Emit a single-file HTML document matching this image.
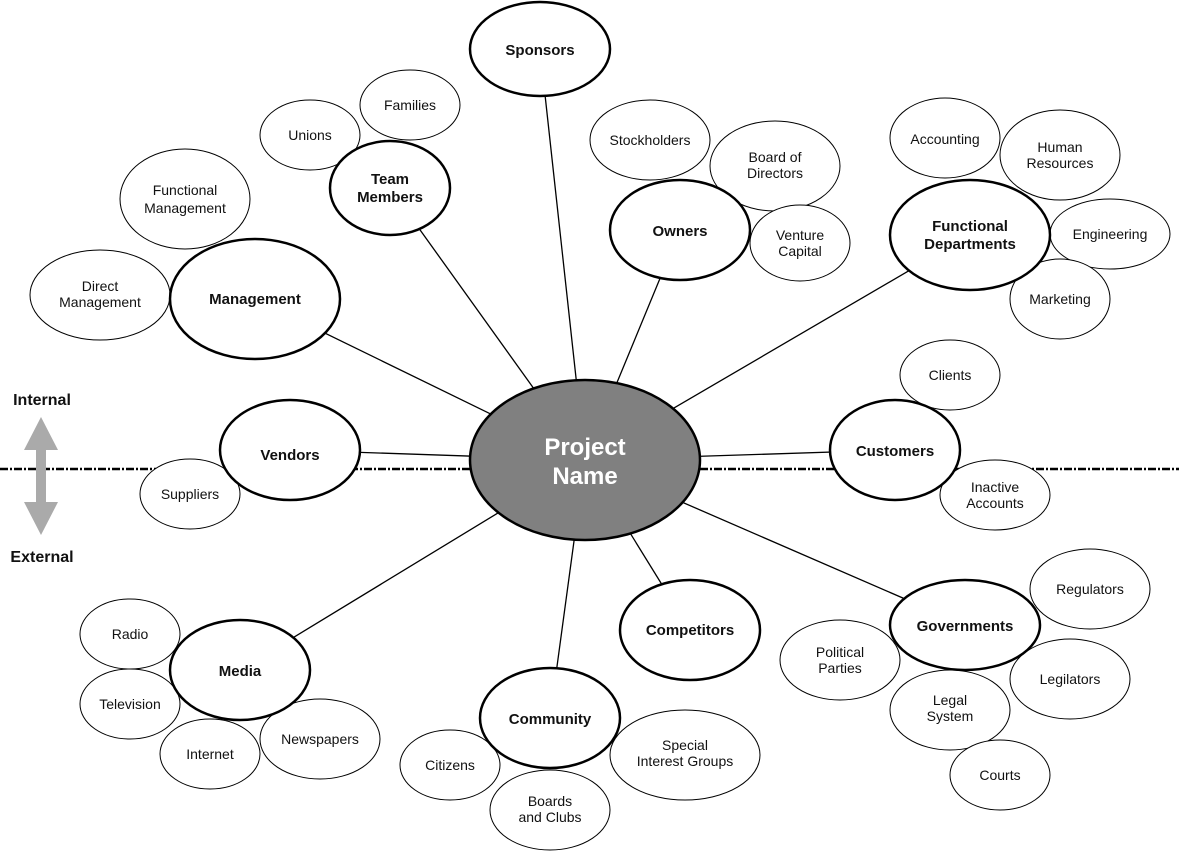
<!DOCTYPE html>
<html><head><meta charset="utf-8"><style>
html,body{margin:0;padding:0;background:#fff;}
svg{display:block;}
text{font-family:"Liberation Sans",sans-serif;text-anchor:middle;fill:#111;}
.s{font-size:14px;}
.b{font-size:15px;font-weight:bold;}
.e{fill:#fff;stroke:#000;stroke-width:1;}
.m{fill:#fff;stroke:#000;stroke-width:2.5;}
line.c{stroke:#000;stroke-width:1.3;}
</style></head><body>
<svg width="1179" height="851" viewBox="0 0 1179 851">
<line x1="0" y1="469" x2="1179" y2="469" stroke="#000" stroke-width="2.5" stroke-dasharray="8,2,2,2"/>
<polygon points="41,417 58,450 46,450 46,502 58,502 41,535 24,502 36,502 36,450 24,450" fill="#aaa"/>
<text x="42" y="405" style="font-size:16px;font-weight:bold">Internal</text>
<text x="42" y="562" style="font-size:16px;font-weight:bold">External</text>
<g>
<line class="c" x1="585" y1="460" x2="540" y2="49"/>
<line class="c" x1="585" y1="460" x2="390" y2="188"/>
<line class="c" x1="585" y1="460" x2="255" y2="299"/>
<line class="c" x1="585" y1="460" x2="680" y2="230"/>
<line class="c" x1="585" y1="460" x2="970" y2="235"/>
<line class="c" x1="585" y1="460" x2="895" y2="450"/>
<line class="c" x1="585" y1="460" x2="290" y2="450"/>
<line class="c" x1="585" y1="460" x2="240" y2="670"/>
<line class="c" x1="585" y1="460" x2="550" y2="718"/>
<line class="c" x1="585" y1="460" x2="690" y2="630"/>
<line class="c" x1="585" y1="460" x2="965" y2="625"/>
</g>
<!-- small nodes -->
<ellipse class="e" cx="310" cy="135" rx="50" ry="35"/><text class="s" x="310" y="140">Unions</text>
<ellipse class="e" cx="410" cy="105" rx="50" ry="35"/><text class="s" x="410" y="110">Families</text>
<ellipse class="e" cx="185" cy="199" rx="65" ry="50"/><text class="s" x="185" y="195">Functional</text><text class="s" x="185" y="213">Management</text>
<ellipse class="e" cx="100" cy="295" rx="70" ry="45"/><text class="s" x="100" y="291">Direct</text><text class="s" x="100" y="307">Management</text>
<ellipse class="e" cx="650" cy="140" rx="60" ry="40"/><text class="s" x="650" y="145">Stockholders</text>
<ellipse class="e" cx="775" cy="166" rx="65" ry="45"/><text class="s" x="775" y="162">Board of</text><text class="s" x="775" y="178">Directors</text>
<ellipse class="e" cx="800" cy="243" rx="50" ry="38"/><text class="s" x="800" y="240">Venture</text><text class="s" x="800" y="256">Capital</text>
<ellipse class="e" cx="945" cy="138" rx="55" ry="40"/><text class="s" x="945" y="144">Accounting</text>
<ellipse class="e" cx="1060" cy="155" rx="60" ry="45"/><text class="s" x="1060" y="152">Human</text><text class="s" x="1060" y="168">Resources</text>
<ellipse class="e" cx="1110" cy="234" rx="60" ry="35"/><text class="s" x="1110" y="239">Engineering</text>
<ellipse class="e" cx="1060" cy="299" rx="50" ry="40"/><text class="s" x="1060" y="304">Marketing</text>
<ellipse class="e" cx="950" cy="375" rx="50" ry="35"/><text class="s" x="950" y="380">Clients</text>
<ellipse class="e" cx="995" cy="495" rx="55" ry="35"/><text class="s" x="995" y="492">Inactive</text><text class="s" x="995" y="508">Accounts</text>
<ellipse class="e" cx="190" cy="494" rx="50" ry="35"/><text class="s" x="190" y="499">Suppliers</text>
<ellipse class="e" cx="130" cy="634" rx="50" ry="35"/><text class="s" x="130" y="639">Radio</text>
<ellipse class="e" cx="130" cy="704" rx="50" ry="35"/><text class="s" x="130" y="709">Television</text>
<ellipse class="e" cx="210" cy="754" rx="50" ry="35"/><text class="s" x="210" y="759">Internet</text>
<ellipse class="e" cx="320" cy="739" rx="60" ry="40"/><text class="s" x="320" y="744">Newspapers</text>
<ellipse class="e" cx="450" cy="765" rx="50" ry="35"/><text class="s" x="450" y="770">Citizens</text>
<ellipse class="e" cx="550" cy="810" rx="60" ry="40"/><text class="s" x="550" y="806">Boards</text><text class="s" x="550" y="822">and Clubs</text>
<ellipse class="e" cx="685" cy="755" rx="75" ry="45"/><text class="s" x="685" y="750">Special</text><text class="s" x="685" y="766">Interest Groups</text>
<ellipse class="e" cx="1090" cy="589" rx="60" ry="40"/><text class="s" x="1090" y="594">Regulators</text>
<ellipse class="e" cx="840" cy="660" rx="60" ry="40"/><text class="s" x="840" y="657">Political</text><text class="s" x="840" y="673">Parties</text>
<ellipse class="e" cx="1070" cy="679" rx="60" ry="40"/><text class="s" x="1070" y="684">Legilators</text>
<ellipse class="e" cx="950" cy="710" rx="60" ry="40"/><text class="s" x="950" y="705">Legal</text><text class="s" x="950" y="721">System</text>
<ellipse class="e" cx="1000" cy="775" rx="50" ry="35"/><text class="s" x="1000" y="780">Courts</text>
<!-- main nodes -->
<ellipse class="m" cx="540" cy="49" rx="70" ry="47"/><text class="b" x="540" y="55">Sponsors</text>
<ellipse class="m" cx="390" cy="188" rx="60" ry="47"/><text class="b" x="390" y="184">Team</text><text class="b" x="390" y="202">Members</text>
<ellipse class="m" cx="255" cy="299" rx="85" ry="60"/><text class="b" x="255" y="304">Management</text>
<ellipse class="m" cx="680" cy="230" rx="70" ry="50"/><text class="b" x="680" y="236">Owners</text>
<ellipse class="m" cx="970" cy="235" rx="80" ry="55"/><text class="b" x="970" y="231">Functional</text><text class="b" x="970" y="249">Departments</text>
<ellipse class="m" cx="895" cy="450" rx="65" ry="50"/><text class="b" x="895" y="456">Customers</text>
<ellipse class="m" cx="290" cy="450" rx="70" ry="50"/><text class="b" x="290" y="460">Vendors</text>
<ellipse class="m" cx="240" cy="670" rx="70" ry="50"/><text class="b" x="240" y="676">Media</text>
<ellipse class="m" cx="550" cy="718" rx="70" ry="50"/><text class="b" x="550" y="724">Community</text>
<ellipse class="m" cx="690" cy="630" rx="70" ry="50"/><text class="b" x="690" y="635">Competitors</text>
<ellipse class="m" cx="965" cy="625" rx="75" ry="45"/><text class="b" x="965" y="631">Governments</text>
<ellipse cx="585" cy="460" rx="115" ry="80" fill="#808080" stroke="#000" stroke-width="2.5"/>
<text x="585" y="455" style="font-size:24px;font-weight:bold;fill:#fff">Project</text>
<text x="585" y="484" style="font-size:24px;font-weight:bold;fill:#fff">Name</text>
</svg>
</body></html>
